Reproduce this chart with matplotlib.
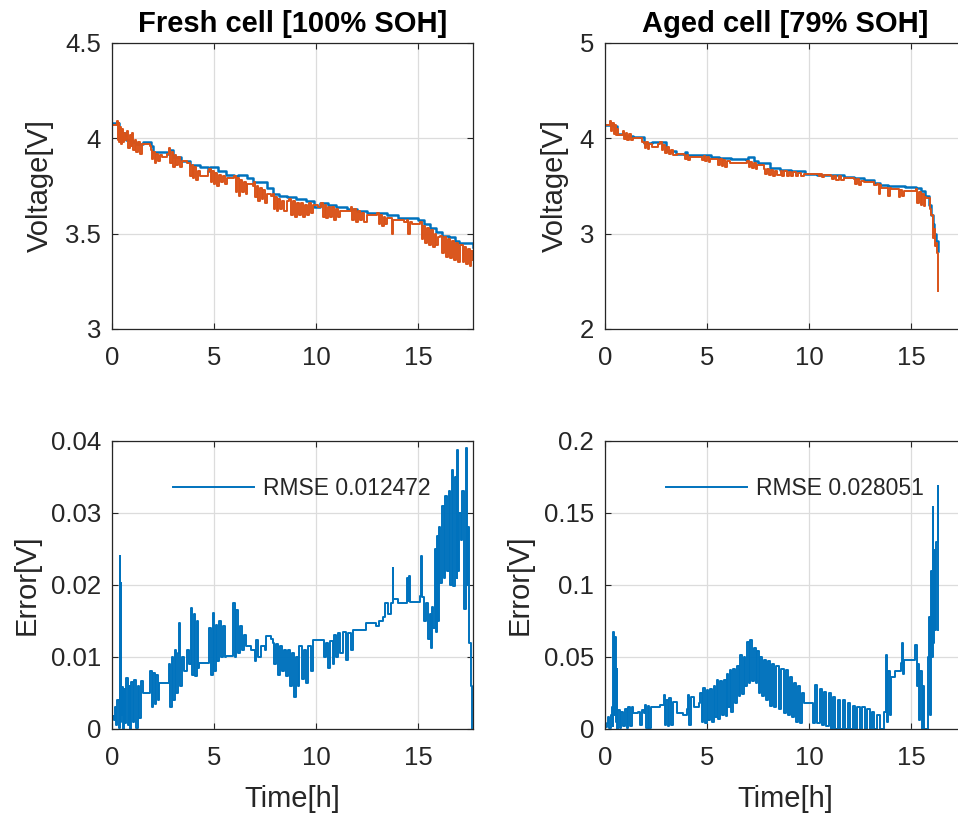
import matplotlib
matplotlib.use("Agg")
import matplotlib.pyplot as plt
import numpy as np
from matplotlib.ticker import FuncFormatter

plt.rcParams['font.family'] = ['Liberation Sans', 'DejaVu Sans']

BLUE = "#0072BD"
ORANGE = "#D95319"
DARK = "#262626"

titles = ["Fresh cell [100% SOH]", "Aged cell [79% SOH]"]
rmse_labels = ["RMSE 0.012472", "RMSE 0.028051"]

# fresh cell, model voltage (t [h], V)
fresh_model = [(0.0, 4.08), (0.3, 4.08), (0.35, 4.02), (0.6, 4.03), (0.7, 3.99), (1.0, 3.98),
               (1.2, 3.97), (1.5, 3.98), (1.9, 3.96), (2.0, 3.93), (2.4, 3.93), (2.7, 3.92),
               (2.8, 3.94), (3.0, 3.90), (3.4, 3.88), (3.7, 3.88), (3.8, 3.86), (4.3, 3.85),
               (4.7, 3.83), (4.8, 3.85), (5.2, 3.83), (5.6, 3.81), (6.0, 3.80), (6.2, 3.81),
               (6.6, 3.79), (6.9, 3.77), (7.2, 3.77), (7.6, 3.74), (7.9, 3.71), (8.2, 3.70),
               (8.6, 3.69), (9.0, 3.68), (9.5, 3.67), (9.9, 3.64), (10.2, 3.66), (10.6, 3.65),
               (11.0, 3.64), (11.5, 3.63), (12.0, 3.62), (12.5, 3.61), (13.0, 3.61), (13.5, 3.60),
               (13.9, 3.60), (14.0, 3.58), (14.5, 3.58), (15.0, 3.57), (15.3, 3.55), (15.6, 3.53),
               (15.9, 3.51), (16.2, 3.49), (16.5, 3.48), (16.8, 3.46), (17.0, 3.45), (17.3, 3.45),
               (17.7, 3.43)]

# fresh cell, measured voltage
fresh_meas = [(0.0, 4.07), (0.2, 4.07), (0.25, 4.09), (0.28, 3.99), (0.32, 4.08), (0.36, 3.98),
              (0.40, 4.06), (0.45, 3.97), (0.50, 4.05), (0.55, 3.98), (0.60, 4.03), (0.64, 3.99),
              (0.70, 4.00), (0.75, 4.04), (0.80, 3.95), (0.86, 4.02), (0.92, 3.96), (0.98, 4.03),
              (1.05, 3.94), (1.12, 3.99), (1.20, 3.93), (1.28, 3.98), (1.36, 3.92), (1.45, 3.97),
              (1.6, 3.97), (1.85, 3.96), (1.9, 3.94), (1.95, 3.89), (2.02, 3.93), (2.1, 3.87),
              (2.18, 3.92), (2.26, 3.88), (2.35, 3.91), (2.43, 3.90), (2.7, 3.92), (2.8, 3.95),
              (2.86, 3.87), (2.93, 3.93), (3.0, 3.85), (3.08, 3.91), (3.16, 3.86), (3.25, 3.90),
              (3.33, 3.85), (3.41, 3.88), (3.7, 3.87), (3.78, 3.87), (3.84, 3.80), (3.9, 3.86),
              (3.97, 3.79), (4.04, 3.85), (4.12, 3.78), (4.2, 3.83), (4.31, 3.80), (4.7, 3.83),
              (4.76, 3.84), (4.83, 3.77), (4.9, 3.83), (4.98, 3.76), (5.06, 3.82), (5.15, 3.75),
              (5.25, 3.81), (5.35, 3.77), (5.45, 3.80), (5.55, 3.76), (5.62, 3.79), (5.9, 3.79),
              (6.0, 3.80), (6.07, 3.72), (6.14, 3.79), (6.22, 3.70), (6.3, 3.78), (6.38, 3.72),
              (6.46, 3.77), (6.55, 3.71), (6.6, 3.76), (6.9, 3.75), (6.97, 3.77), (7.03, 3.69),
              (7.1, 3.75), (7.18, 3.67), (7.26, 3.74), (7.34, 3.68), (7.42, 3.73), (7.5, 3.66),
              (7.58, 3.71), (7.8, 3.70), (7.87, 3.71), (7.93, 3.63), (8.0, 3.69), (8.08, 3.62),
              (8.16, 3.68), (8.25, 3.63), (8.34, 3.67), (8.45, 3.62), (8.56, 3.67), (8.68, 3.68),
              (8.76, 3.60), (8.85, 3.67), (8.95, 3.59), (9.05, 3.66), (9.15, 3.60), (9.25, 3.66),
              (9.35, 3.59), (9.45, 3.65), (9.55, 3.60), (9.65, 3.66), (9.75, 3.61), (9.87, 3.65),
              (10.1, 3.64), (10.25, 3.66), (10.33, 3.59), (10.42, 3.65), (10.5, 3.58), (10.6, 3.64),
              (10.7, 3.59), (10.8, 3.64), (10.9, 3.57), (11.0, 3.63), (11.1, 3.59), (11.2, 3.62),
              (11.6, 3.62), (11.7, 3.64), (11.78, 3.57), (11.86, 3.63), (11.95, 3.56), (12.05, 3.62),
              (12.15, 3.57), (12.25, 3.61), (12.35, 3.56), (12.48, 3.60), (12.9, 3.60), (13.0, 3.61),
              (13.07, 3.55), (13.15, 3.60), (13.23, 3.54), (13.32, 3.59), (13.4, 3.55), (13.46, 3.58),
              (13.7, 3.58), (13.75, 3.50), (13.8, 3.57), (14.3, 3.56), (14.45, 3.57), (14.5, 3.50),
              (14.6, 3.56), (14.7, 3.55), (15.0, 3.55), (15.1, 3.56), (15.18, 3.47), (15.26, 3.54),
              (15.35, 3.45), (15.44, 3.53), (15.53, 3.44), (15.62, 3.52), (15.72, 3.43), (15.82, 3.50),
              (15.9, 3.44), (16.0, 3.48), (16.1, 3.49), (16.18, 3.40), (16.27, 3.48), (16.36, 3.38),
              (16.45, 3.47), (16.55, 3.37), (16.65, 3.46), (16.75, 3.36), (16.85, 3.45), (16.95, 3.35),
              (17.06, 3.44), (17.14, 3.44), (17.2, 3.35), (17.28, 3.43), (17.36, 3.34), (17.45, 3.42),
              (17.54, 3.33), (17.62, 3.41), (17.7, 3.36)]

# aged cell, model voltage
aged_model = [(0.0, 4.14), (0.41, 4.13), (0.57, 4.05), (1.0, 4.02), (1.39, 4.01), (1.9, 3.95),
              (2.3, 3.96), (2.7, 3.96), (3.0, 3.87), (3.5, 3.84), (3.9, 3.86), (4.0, 3.82),
              (4.7, 3.82), (5.2, 3.80), (5.6, 3.79), (6.2, 3.78), (6.9, 3.77), (7.0, 3.80),
              (7.3, 3.76), (7.5, 3.74), (8.1, 3.69), (8.6, 3.67), (9.1, 3.66), (9.8, 3.63),
              (10.4, 3.62), (11.1, 3.62), (11.7, 3.59), (12.2, 3.58), (12.7, 3.56), (13.2, 3.53),
              (13.5, 3.51), (13.9, 3.50), (14.3, 3.50), (14.7, 3.49), (15.25, 3.48), (15.5, 3.45),
              (15.7, 3.40), (15.9, 3.30), (16.0, 3.20), (16.07, 3.10), (16.15, 3.00), (16.23, 2.92),
              (16.31, 2.82)]

# aged cell, measured voltage
aged_meas = [(0.0, 4.14), (0.2, 4.14), (0.25, 4.18), (0.3, 4.08), (0.36, 4.16), (0.42, 4.05),
             (0.48, 4.14), (0.53, 4.04), (0.57, 4.10), (0.65, 4.04), (0.82, 4.03), (0.88, 4.08),
             (0.95, 3.99), (1.02, 4.06), (1.10, 3.98), (1.18, 4.05), (1.26, 3.98), (1.39, 4.00),
             (1.80, 3.96), (1.89, 3.95), (1.95, 3.90), (2.02, 3.96), (2.10, 3.89), (2.18, 3.94),
             (2.30, 3.91), (2.60, 3.94), (2.70, 3.96), (2.78, 3.88), (2.86, 3.93), (2.95, 3.85),
             (3.04, 3.91), (3.13, 3.84), (3.22, 3.88), (3.32, 3.83), (3.52, 3.84), (3.85, 3.82),
             (3.92, 3.78), (4.00, 3.82), (4.08, 3.77), (4.18, 3.80), (4.67, 3.80), (4.75, 3.77),
             (4.83, 3.81), (4.92, 3.76), (5.00, 3.80), (5.08, 3.75), (5.16, 3.78), (5.49, 3.78),
             (5.56, 3.72), (5.64, 3.78), (5.72, 3.71), (5.80, 3.77), (5.90, 3.70), (6.00, 3.76),
             (6.15, 3.74), (6.97, 3.76), (7.04, 3.70), (7.12, 3.75), (7.20, 3.69), (7.30, 3.74),
             (7.38, 3.68), (7.46, 3.72), (7.79, 3.68), (7.86, 3.63), (7.94, 3.68), (8.02, 3.62),
             (8.12, 3.67), (8.22, 3.61), (8.32, 3.66), (8.44, 3.62), (8.61, 3.66), (8.70, 3.61),
             (8.80, 3.66), (8.90, 3.60), (9.00, 3.65), (9.10, 3.61), (9.22, 3.65), (9.35, 3.60),
             (9.48, 3.64), (9.60, 3.61), (9.75, 3.63), (10.41, 3.63), (10.48, 3.60), (10.56, 3.63),
             (10.65, 3.59), (10.74, 3.62), (11.07, 3.61), (11.15, 3.57), (11.25, 3.61), (11.35, 3.56),
             (11.45, 3.60), (11.55, 3.56), (11.72, 3.58), (12.21, 3.57), (12.28, 3.52), (12.36, 3.57),
             (12.45, 3.51), (12.55, 3.55), (12.70, 3.54), (13.20, 3.51), (13.36, 3.52), (13.42, 3.42),
             (13.48, 3.51), (13.52, 3.48), (13.85, 3.48), (13.90, 3.40), (13.96, 3.48), (14.02, 3.47),
             (14.34, 3.47), (14.40, 3.38), (14.48, 3.46), (14.55, 3.40), (14.67, 3.45), (15.20, 3.45),
             (15.25, 3.47), (15.32, 3.32), (15.40, 3.44), (15.48, 3.30), (15.56, 3.42), (15.64, 3.29),
             (15.70, 3.38), (15.74, 3.37), (15.90, 3.37), (15.92, 3.26), (16.00, 3.20), (16.07, 3.08),
             (16.10, 2.95), (16.13, 3.05), (16.18, 2.87), (16.23, 2.90), (16.28, 2.80), (16.31, 2.40)]

# fresh cell, absolute error
fresh_err = [(0.00, 0.0018), (0.08, 0.0012), (0.14, 0.0030), (0.20, 0.0005), (0.26, 0.0040),
             (0.32, 0.0002), (0.37, 0.0050), (0.39, 0.0240), (0.41, 0.0010), (0.43, 0.0203),
             (0.45, 0.0020), (0.50, 0.0059), (0.55, 0.0000), (0.60, 0.0055), (0.65, 0.0008),
             (0.70, 0.0071), (0.76, 0.0005), (0.82, 0.0060), (0.88, 0.0000), (0.95, 0.0065),
             (1.02, 0.0010), (1.10, 0.0068), (1.18, 0.0002), (1.26, 0.0060), (1.34, 0.0015),
             (1.42, 0.0066), (1.50, 0.0050), (1.83, 0.0050), (1.88, 0.0080), (1.95, 0.0031),
             (2.02, 0.0078), (2.10, 0.0035), (2.18, 0.0075), (2.24, 0.0040), (2.32, 0.0064),
             (2.73, 0.0064), (2.78, 0.0090), (2.85, 0.0030), (2.93, 0.0100), (3.00, 0.0040),
             (3.08, 0.0110), (3.15, 0.0050), (3.22, 0.0105), (3.30, 0.0147), (3.34, 0.0060),
             (3.45, 0.0100), (3.55, 0.0080), (3.68, 0.0110), (3.79, 0.0090), (3.85, 0.0168),
             (3.92, 0.0075), (4.00, 0.0160), (4.08, 0.0073), (4.16, 0.0150), (4.24, 0.0085),
             (4.28, 0.0092), (4.70, 0.0092), (4.77, 0.0140), (4.85, 0.0075), (4.93, 0.0161),
             (5.00, 0.0080), (5.08, 0.0145), (5.15, 0.0095), (5.25, 0.0150), (5.35, 0.0100),
             (5.45, 0.0143), (5.55, 0.0100), (5.59, 0.0101), (5.90, 0.0101), (5.95, 0.0175),
             (6.02, 0.0100), (6.10, 0.0165), (6.18, 0.0105), (6.26, 0.0143), (6.35, 0.0110),
             (6.45, 0.0130), (6.57, 0.0115), (6.80, 0.0110), (7.00, 0.0095), (7.06, 0.0124),
             (7.15, 0.0100), (7.30, 0.0115), (7.50, 0.0110), (7.55, 0.0129), (7.80, 0.0125),
             (7.88, 0.0120), (7.95, 0.0090), (8.05, 0.0118), (8.15, 0.0075), (8.25, 0.0115),
             (8.35, 0.0080), (8.45, 0.0110), (8.53, 0.0073), (8.62, 0.0110), (8.72, 0.0060),
             (8.82, 0.0105), (8.94, 0.0045), (9.02, 0.0100), (9.10, 0.0060), (9.18, 0.0115),
             (9.30, 0.0070), (9.40, 0.0110), (9.52, 0.0064), (9.62, 0.0115), (9.75, 0.0080),
             (9.84, 0.0124), (10.33, 0.0124), (10.40, 0.0100), (10.50, 0.0120), (10.60, 0.0085),
             (10.70, 0.0122), (10.82, 0.0090), (10.90, 0.0130), (11.00, 0.0100), (11.10, 0.0133),
             (11.20, 0.0105), (11.32, 0.0135), (11.45, 0.0096), (11.55, 0.0133), (11.70, 0.0110),
             (11.80, 0.0138), (12.45, 0.0147), (12.94, 0.0143), (13.10, 0.0150), (13.27, 0.0156),
             (13.40, 0.0175), (13.55, 0.0160), (13.70, 0.0175), (13.76, 0.0224), (13.80, 0.0180),
             (14.00, 0.0175), (14.41, 0.0175), (14.44, 0.0210), (14.50, 0.0178), (14.58, 0.0212),
             (14.62, 0.0177), (14.95, 0.0177), (15.10, 0.0185), (15.15, 0.0240), (15.20, 0.0184),
             (15.30, 0.0150), (15.40, 0.0175), (15.50, 0.0125), (15.58, 0.0160), (15.64, 0.0113),
             (15.70, 0.0170), (15.76, 0.0140), (15.82, 0.0250), (15.88, 0.0135), (15.94, 0.0268),
             (16.00, 0.0150), (16.05, 0.0280), (16.10, 0.0203), (16.18, 0.0310), (16.26, 0.0210),
             (16.34, 0.0323), (16.42, 0.0220), (16.50, 0.0330), (16.58, 0.0200), (16.66, 0.0360),
             (16.74, 0.0198), (16.82, 0.0350), (16.90, 0.0210), (16.94, 0.0388), (16.98, 0.0220),
             (17.03, 0.0300), (17.10, 0.0263), (17.18, 0.0330), (17.26, 0.0166), (17.35, 0.0390),
             (17.40, 0.0200), (17.46, 0.0280), (17.52, 0.0119), (17.58, 0.0060), (17.65, 0.0000)]

# aged cell, absolute error
aged_err = [(0.00, 0.0016), (0.08, 0.0040), (0.16, 0.0086), (0.22, 0.0010), (0.28, 0.0100),
            (0.33, 0.0155), (0.38, 0.0020), (0.41, 0.0676), (0.45, 0.0100), (0.49, 0.0640),
            (0.53, 0.0050), (0.57, 0.0420), (0.61, 0.0000), (0.66, 0.0130), (0.72, 0.0010),
            (0.80, 0.0120), (0.90, 0.0020), (0.98, 0.0140), (1.06, 0.0005), (1.14, 0.0150),
            (1.22, 0.0020), (1.30, 0.0155), (1.39, 0.0110), (1.60, 0.0120), (1.70, 0.0030),
            (1.80, 0.0130), (1.89, 0.0110), (1.95, 0.0167), (2.02, 0.0010), (2.10, 0.0160),
            (2.18, 0.0005), (2.25, 0.0155), (2.30, 0.0155), (2.70, 0.0170), (2.87, 0.0236),
            (2.92, 0.0030), (3.00, 0.0200), (3.08, 0.0020), (3.16, 0.0215), (3.25, 0.0030),
            (3.35, 0.0190), (3.52, 0.0110), (3.80, 0.0100), (4.02, 0.0140), (4.08, 0.0236),
            (4.14, 0.0030), (4.22, 0.0220), (4.34, 0.0155), (4.60, 0.0180), (4.67, 0.0250),
            (4.74, 0.0050), (4.82, 0.0282), (4.90, 0.0040), (4.98, 0.0270), (5.06, 0.0060),
            (5.14, 0.0280), (5.24, 0.0050), (5.33, 0.0300), (5.40, 0.0080), (5.48, 0.0340),
            (5.56, 0.0070), (5.65, 0.0330), (5.74, 0.0100), (5.83, 0.0340), (5.92, 0.0090),
            (5.98, 0.0380), (6.05, 0.0150), (6.12, 0.0410), (6.20, 0.0120), (6.28, 0.0420),
            (6.36, 0.0180), (6.48, 0.0440), (6.55, 0.0230), (6.62, 0.0514), (6.70, 0.0240),
            (6.80, 0.0500), (6.88, 0.0300), (6.97, 0.0607), (7.04, 0.0320), (7.13, 0.0618),
            (7.20, 0.0330), (7.30, 0.0560), (7.38, 0.0320), (7.46, 0.0540), (7.54, 0.0250),
            (7.62, 0.0500), (7.70, 0.0230), (7.80, 0.0480), (7.90, 0.0200), (8.00, 0.0470),
            (8.11, 0.0160), (8.20, 0.0450), (8.30, 0.0155), (8.40, 0.0440), (8.52, 0.0140),
            (8.62, 0.0420), (8.77, 0.0110), (8.86, 0.0410), (8.96, 0.0100), (9.06, 0.0360),
            (9.16, 0.0080), (9.26, 0.0317), (9.36, 0.0050), (9.46, 0.0300), (9.56, 0.0040),
            (9.66, 0.0250), (9.75, 0.0178), (10.08, 0.0178), (10.20, 0.0040), (10.30, 0.0306),
            (10.41, 0.0040), (10.52, 0.0280), (10.62, 0.0030), (10.74, 0.0260), (10.86, 0.0020),
            (10.96, 0.0250), (11.07, 0.0000), (11.18, 0.0220), (11.30, 0.0000), (11.42, 0.0200),
            (11.54, 0.0000), (11.66, 0.0200), (11.78, 0.0000), (11.90, 0.0180), (12.02, 0.0000),
            (12.14, 0.0160), (12.26, 0.0000), (12.38, 0.0150), (12.50, 0.0000), (12.62, 0.0150),
            (12.74, 0.0000), (12.86, 0.0140), (12.98, 0.0000), (13.10, 0.0120), (13.20, 0.0000),
            (13.35, 0.0100), (13.50, 0.0000), (13.69, 0.0120), (13.77, 0.0514), (13.82, 0.0050),
            (13.90, 0.0400), (13.96, 0.0100), (14.02, 0.0363), (14.20, 0.0400), (14.51, 0.0456),
            (14.56, 0.0595), (14.60, 0.0380), (14.67, 0.0480), (15.00, 0.0480), (15.16, 0.0480),
            (15.22, 0.0580), (15.28, 0.0300), (15.33, 0.0450), (15.41, 0.0063), (15.46, 0.0400),
            (15.52, 0.0000), (15.57, 0.0300), (15.66, 0.0000), (15.74, 0.0000), (15.82, 0.0020),
            (15.86, 0.0500), (15.90, 0.0780), (15.94, 0.0100), (15.98, 0.1100), (16.02, 0.0500),
            (16.07, 0.1540), (16.10, 0.0600), (16.15, 0.1240), (16.20, 0.0690), (16.25, 0.1300),
            (16.31, 0.1690), (16.34, 0.0690)]

volt_ylims = [(3, 4.5), (2, 5)]
volt_yticks = [[3, 3.5, 4, 4.5], [2, 3, 4, 5]]
err_ylims = [(0, 0.04), (0, 0.2)]
err_yticks = [[0, 0.01, 0.02, 0.03, 0.04], [0, 0.05, 0.1, 0.15, 0.2]]
xticks = [0, 5, 10, 15]

fig = plt.figure(figsize=(9.58, 8.16), dpi=100)
W, H = 958, 816
lefts = [112, 605]
axw = 361


def style(ax):
    ax.set_xlim(0, 17.7)
    ax.set_xticks(xticks)
    ax.grid(True, color="#dcdcdc", linewidth=0.9)
    ax.set_axisbelow(True)
    ax.tick_params(direction="in", length=4, width=0.8, colors=DARK,
                   labelsize=18.5, top=True, right=True)
    ax.tick_params(axis="x", pad=12)
    ax.tick_params(axis="y", pad=8)
    for s in ax.spines.values():
        s.set_color(DARK)
        s.set_linewidth(0.9)
    ax.yaxis.set_major_formatter(FuncFormatter(lambda v, p: "%g" % v))


for col, (model, meas, err) in enumerate([(fresh_model, fresh_meas, fresh_err),
                                          (aged_model, aged_meas, aged_err)]):
    # voltage
    ax = fig.add_axes([lefts[col] / W, 1 - 329 / H, axw / W, 286 / H])
    tm, vm = np.array(model).T
    tr, vr = np.array(meas).T
    ax.plot(tm, vm, color=BLUE, lw=1.8, drawstyle="steps-post")
    ax.plot(tr, vr, color=ORANGE, lw=1.4, drawstyle="steps-post")
    style(ax)
    ax.set_ylim(volt_ylims[col])
    ax.set_yticks(volt_yticks[col])
    ax.set_ylabel("Voltage[V]", fontsize=21, color=DARK, labelpad=8)
    ax.set_title(titles[col], fontsize=21, fontweight="bold", color="black", pad=8)

    # error
    ax2 = fig.add_axes([lefts[col] / W, 1 - 729 / H, axw / W, 288 / H])
    te, ee = np.array(err).T
    ax2.plot(te, ee, color=BLUE, lw=1.4, drawstyle="steps-post", label=rmse_labels[col])
    style(ax2)
    ax2.set_ylim(err_ylims[col])
    ax2.set_yticks(err_yticks[col])
    ax2.set_ylabel("Error[V]", fontsize=21, color=DARK, labelpad=7)
    ax2.set_xlabel("Time[h]", fontsize=21, color=DARK, labelpad=11)
    leg = ax2.legend(loc="center left", bbox_to_anchor=(0.17, 0.835), frameon=False,
                     fontsize=16.5, handlelength=3.5, handletextpad=0.4,
                     borderpad=0, borderaxespad=0)
    for t in leg.get_texts():
        t.set_color(DARK)

fig.savefig("out.png", dpi=100)
